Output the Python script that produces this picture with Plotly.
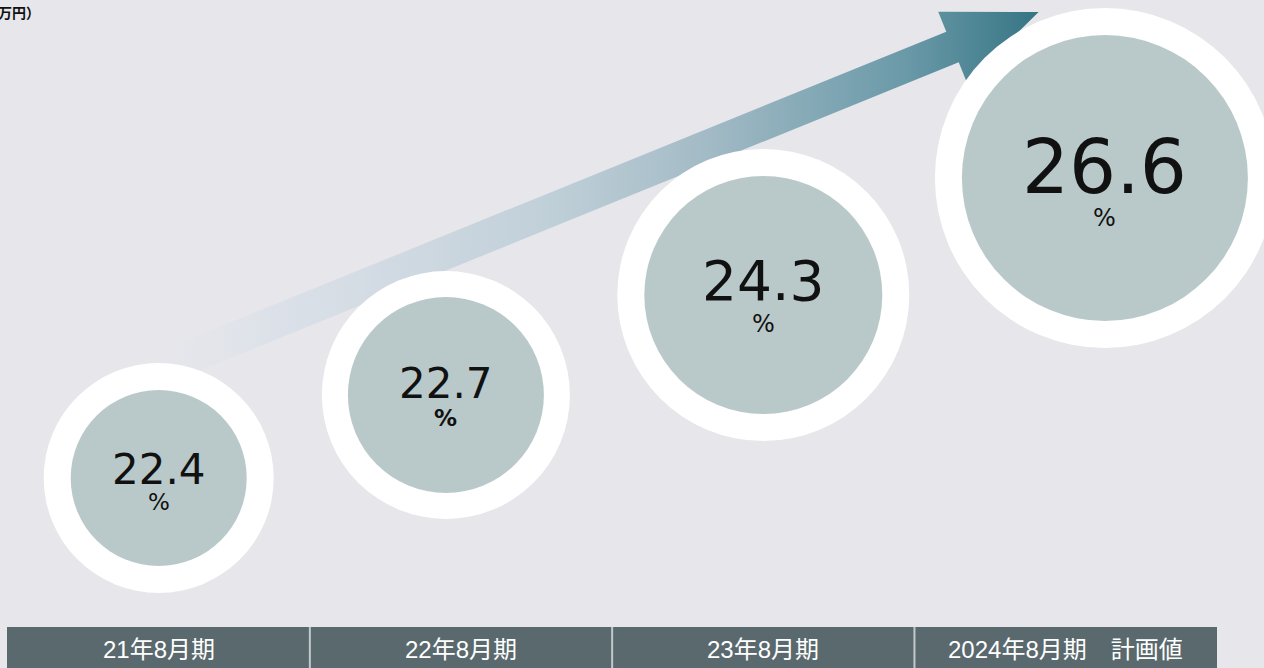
import plotly.graph_objects as go
import numpy as np

# ---------------- data ----------------
categories = ["21年8月期", "22年8月期", "23年8月期", "2024年8月期\u3000計画値"]
values = [22.4, 22.7, 24.3, 26.6]
unit = "%"
unit_label = "（百万円）"

# ---------------- style ----------------
W, H = 1264, 668
BG = "#e6e6eb"
CELL = "#5a696e"
INNER = "#b9c9c9"
X0_PX, STEP_PX = 158.7, 302.3          # pixel centre of first category, spacing
x_offset = [0.0, -0.05, 0.0, 0.13]     # circle offset from category centre (category units)
y_level = [478, 395, 295, 178]         # vertical position of circles (pixels from top)
r_inner = [88, 98, 119, 143]
r_outer = [115, 124, 146, 170]
num_size = [42, 42, 55, 74]
pct_size = [23, 23, 24, 24]
num_dy = [-9, -12, -14, -11]
pct_dy = [24, 23, 29, 40]
pct_bold = [False, True, False, False]
VALUE_FONT = "DejaVu Sans"
LABEL_FONT = "Liberation Sans, Noto Sans CJK JP"


def px2x(p):
    return (p - X0_PX) / STEP_PX


fig = go.Figure()

# ---------------- arrow (decoration) ----------------
u = np.array([np.cos(np.radians(-22.1)), np.sin(np.radians(-22.1))])  # screen coords, y down
n = np.array([-u[1], u[0]])
M = np.array([952.5, 47.0])
tail = M - 850 * u
sw, hw, hl = 16.5, 38.0, 93.0
pts = [tail - sw * n, M - sw * n, M - hw * n, M + hl * u, M + hw * n, M + sw * n, tail + sw * n, tail - sw * n]
ax_x = [px2x(p[0]) for p in pts]
ax_y = [p[1] for p in pts]
fig.add_trace(go.Scatter(
    x=ax_x, y=ax_y, mode="lines", fill="toself", line=dict(width=0),
    fillgradient=dict(type="horizontal", colorscale=[
        [0.0, "rgba(228,230,236,0)"],
        [0.12, "rgba(220,225,233,0.9)"],
        [0.45, "#bfcfd8"],
        [0.62, "#a3bbc6"],
        [0.85, "#6a99a8"],
        [1.0, "#367584"],
    ]),
    hoverinfo="skip", showlegend=False))

# ---------------- circles ----------------
cx = [i + x_offset[i] for i in range(len(values))]
fig.add_trace(go.Scatter(
    x=cx, y=y_level, mode="markers",
    marker=dict(size=[2 * r for r in r_outer], color="white", opacity=1, line=dict(width=0)),
    hoverinfo="skip", showlegend=False))
fig.add_trace(go.Scatter(
    x=cx, y=y_level, mode="markers",
    marker=dict(size=[2 * r for r in r_inner], color=INNER, opacity=1, line=dict(width=0)),
    hoverinfo="skip", showlegend=False))

annotations = []
for i, v in enumerate(values):
    annotations.append(dict(
        x=cx[i], y=y_level[i] + num_dy[i], text=f"{v:.1f}", showarrow=False,
        xanchor="center", yanchor="middle",
        font=dict(family=VALUE_FONT, size=num_size[i], color="#111111")))
    annotations.append(dict(
        x=cx[i], y=y_level[i] + pct_dy[i], text=(f"<b>{unit}</b>" if pct_bold[i] else unit),
        showarrow=False, xanchor="center", yanchor="middle",
        font=dict(family=VALUE_FONT, size=pct_size[i], color="#111111")))

# ---------------- category bar ----------------
shapes = [dict(type="rect", xref="x", yref="y", x0=px2x(7), x1=px2x(1217), y0=627, y1=670,
               fillcolor=CELL, line=dict(width=0), layer="above")]
for i in range(1, len(categories)):
    xb = i - 0.5
    shapes.append(dict(type="line", xref="x", yref="y", x0=xb, x1=xb, y0=627, y1=670,
                       line=dict(color="#c3c9cb", width=2), layer="above"))
for i, c in enumerate(categories):
    annotations.append(dict(
        x=i, y=649, text=c, showarrow=False, xanchor="center", yanchor="middle",
        font=dict(family=LABEL_FONT, size=24, color="white")))

annotations.append(dict(
    xref="paper", yref="paper", x=42 / W, y=1 - 12 / H, text=f"<b>{unit_label}</b>",
    showarrow=False, xanchor="right", yanchor="middle",
    font=dict(family="Noto Sans CJK JP", size=14, color="#111111")))

fig.update_layout(
    width=W, height=H, margin=dict(l=0, r=0, t=0, b=0),
    paper_bgcolor=BG, plot_bgcolor=BG,
    xaxis=dict(range=[px2x(0), px2x(W)], visible=False, fixedrange=True),
    yaxis=dict(range=[H, 0], visible=False, fixedrange=True),
    shapes=shapes, annotations=annotations, showlegend=False,
)

fig.write_html("out.html", config={"displayModeBar": False},
               post_script="document.body.style.margin='0';document.body.style.overflow='hidden';")
